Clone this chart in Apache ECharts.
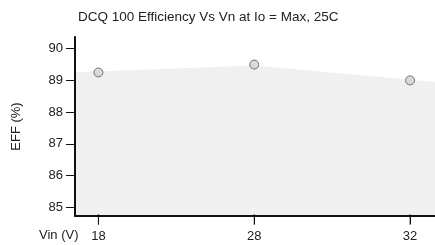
<!DOCTYPE html>
<html>
<head>
<meta charset="utf-8">
<script src="https://cdn.jsdelivr.net/npm/echarts@6/dist/echarts.min.js"></script>
<style>
  html, body { margin: 0; padding: 0; background: #fff; }
  #chart { width: 435px; height: 245px; }
</style>
</head>
<body>
<div id="chart"></div>
<script>
// Vin categories and measured efficiency
const vinLabels = ['18', '28', '32'];
const vinPos = [0, 1, 2];
const effValues = [89.25, 89.5, 89.0];
// top edge of the grey shaded band (edge, 28V, edge)
const shadeX = [-0.15, 1, 2.16];
const shadeTop = [89.26, 89.47, 88.95];
const yTicks = [85, 86, 87, 88, 89, 90];
const yMin = 84.72, yMax = 90.37;

const font = '"Liberation Sans", Arial, sans-serif';

var chart = echarts.init(document.getElementById('chart'));
chart.setOption({
    animation: false,
    title: [{
        text: 'DCQ 100 Efficiency Vs Vn at Io = Max, 25C',
        left: 73,
        top: 5,
        textStyle: { fontFamily: font, fontSize: 13.5, fontWeight: 'normal', color: '#222' }
    }, {
        // x axis caption, sits left of the tick labels
        text: 'Vin (V)',
        left: 34,
        top: 224,
        textStyle: { fontFamily: font, fontSize: 13, fontWeight: 'normal', color: '#222' }
    }],
    grid: { left: 75, right: 0, top: 37, bottom: 29, outerBoundsMode: 'none' },
    xAxis: {
        type: 'value',
        min: -0.15,
        max: 2.16,
        axisLine: { onZero: false, lineStyle: { color: '#111', width: 2 } },
        axisTick: { show: true, length: 8, customValues: vinPos, lineStyle: { color: '#111', width: 1 } },
        axisLabel: {
            customValues: vinPos,
            margin: 14,
            fontFamily: font, fontSize: 13, color: '#222',
            formatter: v => vinLabels[Math.round(v)]
        },
        splitLine: { show: false }
    },
    yAxis: {
        type: 'value',
        min: yMin,
        max: yMax,
        name: 'EFF (%)',
        nameLocation: 'middle',
        nameRotate: 90,
        nameGap: 52,
        nameTextStyle: { fontFamily: font, fontSize: 13, color: '#222' },
        axisLine: { show: true, onZero: false, lineStyle: { color: '#111', width: 2 } },
        axisTick: { show: true, length: 9, customValues: yTicks, lineStyle: { color: '#111', width: 1 } },
        axisLabel: { customValues: yTicks, margin: 12, fontFamily: font, fontSize: 13, color: '#222' },
        splitLine: { show: false }
    },
    series: [
        {
            type: 'line',
            data: shadeX.map((x, i) => [x, shadeTop[i]]),
            symbol: 'none',
            lineStyle: { width: 0 },
            areaStyle: { color: '#f0f0f0', opacity: 1, origin: 'start' },
            silent: true,
            z: 0
        },
        {
            // tick marks crossing the x axis at each Vin
            type: 'scatter',
            data: vinPos.map(x => [x, yMin]),
            symbol: 'rect',
            symbolSize: [1, 11],
            symbolOffset: [0, 3.5],
            itemStyle: { color: '#111' },
            clip: false,
            silent: true,
            z: 4
        },
        {
            type: 'scatter',
            data: vinPos.map((x, i) => [x, effValues[i]]),
            symbol: 'circle',
            symbolSize: 9,
            itemStyle: { color: '#d2d2d2', borderColor: '#555', borderWidth: 1 },
            z: 3
        }
    ]
});
</script>
</body>
</html>
